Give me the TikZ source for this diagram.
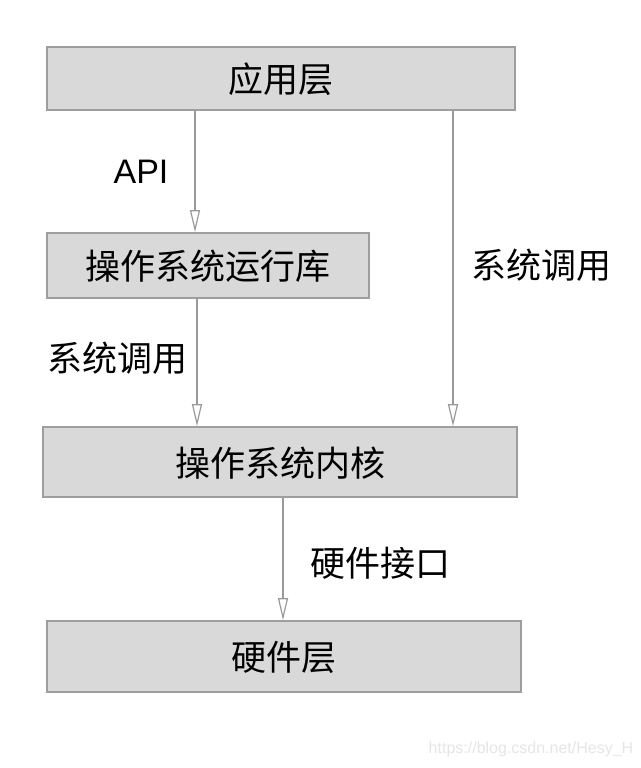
\documentclass[tikz,border=0pt]{standalone}
\usepackage{fontspec}
\setmainfont{Liberation Sans}
\newfontfamily\cjk{Noto Sans CJK SC}
\usetikzlibrary{arrows.meta}
\definecolor{boxfill}{HTML}{D9D9D9}
\definecolor{boxline}{HTML}{9E9E9E}
\definecolor{arrline}{HTML}{999999}
\definecolor{wm}{HTML}{E6E6E6}
\begin{document}
\begin{tikzpicture}[x=1pt,y=-1pt,
  layer/.style={draw=boxline, fill=boxfill, line width=1.6pt},
  lbl/.style={font=\cjk\fontsize{35}{35}\selectfont, text=black},
  flow/.style={draw=arrline, line width=1.2pt, -{Triangle[open,length=22pt,width=10pt]}}]
\useasboundingbox (0,0) rectangle (640,768);
\fill[white] (0,0) rectangle (640,768);
% boxes
\draw[layer] (47,47) rectangle (515,110);
\node[lbl] (app) at (281,79) {应用层};
\draw[layer] (47,233) rectangle (369,298);
\node[lbl] (rt) at (208,266) {操作系统运行库};
\draw[layer] (43,427) rectangle (517,497);
\node[lbl] (kern) at (280,463) {操作系统内核};
\draw[layer] (47,621) rectangle (521,692);
\node[lbl] (hw) at (284,657) {硬件层};
% coordinates for connector ends
\coordinate (a1) at (195,110.8);
\coordinate (a2) at (195,232.2);
\coordinate (b1) at (453,110.8);
\coordinate (b2) at (453,426.2);
\coordinate (c1) at (197,298.8);
\coordinate (c2) at (197,426.2);
\coordinate (d1) at (283,497.8);
\coordinate (d2) at (283,620.2);
\draw[flow] (a1) -- (a2);
\draw[flow] (b1) -- (b2);
\draw[flow] (c1) -- (c2);
\draw[flow] (d1) -- (d2);
% labels
\node[font=\fontsize{34}{34}\selectfont] (api) at (141,172) {API};
\node[lbl] (sc1) at (541,265) {系统调用};
\node[lbl] (sc2) at (117,358) {系统调用};
\node[lbl] (hi) at (380,563) {硬件接口};
\node[text=wm, font=\fontsize{16}{16}\selectfont] (wmk) at (531,749) {https://blog.csdn.net/Hesy\_H};
\end{tikzpicture}
\end{document}
